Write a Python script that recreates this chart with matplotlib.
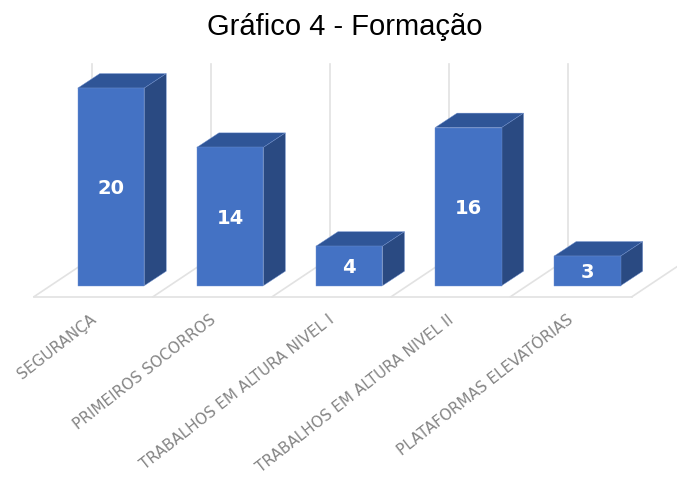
import numpy as np
import matplotlib
matplotlib.use('Agg')
import matplotlib.pyplot as plt
from matplotlib.patches import Polygon

categorias = ['SEGURANÇA', 'PRIMEIROS SOCORROS', 'TRABALHOS EM ALTURA NIVEL I',
              'TRABALHOS EM ALTURA NIVEL II', 'PLATAFORMAS ELEVATÓRIAS']
valores = [20, 14, 4, 16, 3]

cor_frente = '#4472C4'
cor_topo = '#2F5597'
cor_lado = '#2A4A82'
cor_grade = '#E2E2E2'
cor_borda = '#6F90CF'

W, H = 677, 493
px_x = 119.1  # pixels por categoria
px_y = 9.88   # pixels por unidade
x0, y0 = 111, 285.7  # pixel da categoria 0 / valor 0

fig = plt.figure(figsize=(W / 100, H / 100), dpi=100)
ax = fig.add_axes([0, 0, 1, 1])
ax.set_xlim(-x0 / px_x, (W - x0) / px_x)
ax.set_ylim((y0 - H) / px_y, y0 / px_y)
ax.axis('off')

largura = 66.5 / px_x
prof_x = 22 / px_x
prof_y = 14.5 / px_y

# chão e grade
chao_x = (34 - x0) / px_x
chao_fim = (632 - x0) / px_x
chao_y = (y0 - 296.7) / px_y
chao_dx = 58 / px_x
chao_dy = 38.7 / px_y
topo_grade = (y0 - 64) / px_y
ax.plot([chao_x, chao_fim], [chao_y, chao_y], color=cor_grade, lw=1.2, zorder=1)
for i in range(len(categorias)):
    x = chao_x + i
    ax.plot([x, x + chao_dx], [chao_y, chao_y + chao_dy], color=cor_grade, lw=1.2, zorder=1)
    ax.plot([x + chao_dx, x + chao_dx], [chao_y + chao_dy, topo_grade], color=cor_grade, lw=1.2, zorder=1)
ax.plot([chao_fim, chao_fim + chao_dx], [chao_y, chao_y + chao_dy], color=cor_grade, lw=1.2, zorder=1)

# barras 3D
for i, v in enumerate(valores):
    esq = i - largura / 2
    dir = i + largura / 2
    ax.bar(i, v, width=largura, color=cor_frente, edgecolor=cor_borda, linewidth=0.3, zorder=3)
    ax.add_patch(Polygon([(esq, v), (dir, v), (dir + prof_x, v + prof_y), (esq + prof_x, v + prof_y)],
                         closed=True, facecolor=cor_topo, edgecolor=cor_borda, linewidth=0.3, zorder=2))
    ax.add_patch(Polygon([(dir, 0), (dir + prof_x, prof_y), (dir + prof_x, v + prof_y), (dir, v)],
                         closed=True, facecolor=cor_lado, edgecolor=cor_borda, linewidth=0.3, zorder=2))
    ax.text(i, v / 2 - 0.15, str(v), color='white', fontsize=14, fontweight='bold',
            family='DejaVu Sans', ha='center', va='center', zorder=4)

# rótulos das categorias
fim_rotulo = (y0 - 312) / px_y
for i, nome in enumerate(categorias):
    ax.text(i - 21 / px_x, fim_rotulo, nome, rotation=38, rotation_mode='anchor',
            ha='right', va='top', fontsize=11, color='#858585', family='DejaVu Sans')

ax.text((345 - x0) / px_x, (y0 - 27) / px_y, 'Gráfico 4 - Formação', fontsize=21,
        family='Liberation Sans', color='black', ha='center', va='center')

fig.savefig('out.png', dpi=100)
